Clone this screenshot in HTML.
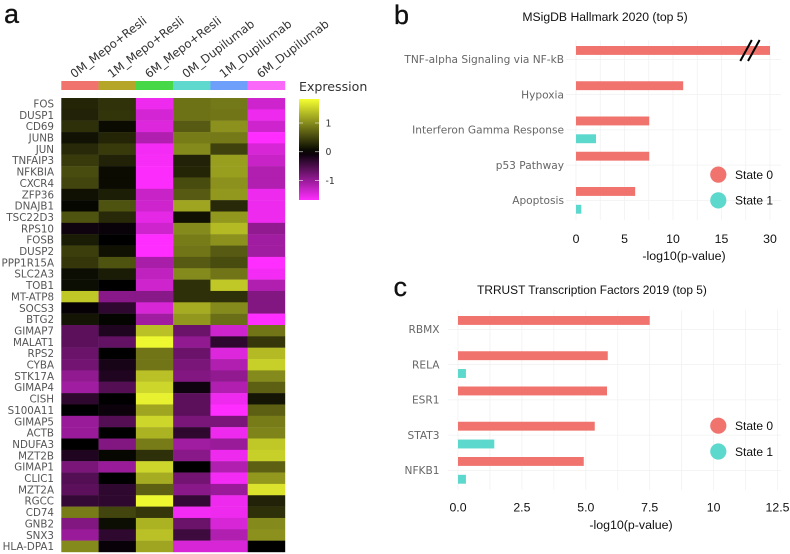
<!DOCTYPE html>
<html lang="en">
<head>
<meta charset="utf-8">
<title>Expression heatmap and enrichment charts</title>
<style>
html,body{margin:0;padding:0;background:#fff;width:790px;height:554px;overflow:hidden}
svg{display:block}
text{font-family:"Liberation Sans",sans-serif}
.dj{font-family:"DejaVu Sans",sans-serif}
</style>
</head>
<body>
<svg id="figure" xmlns="http://www.w3.org/2000/svg" width="790" height="554" viewBox="0 0 790 554">
  <rect width="790" height="554" fill="#fff"/>
  <defs>
    <linearGradient id="cbar" x1="0" y1="0" x2="0" y2="1"></linearGradient>
  </defs>
  <text x="4" y="23" font-size="27" fill="#111" stroke="#111" stroke-width="0.3">a</text>
  <text x="394" y="24" font-size="27" fill="#111" stroke="#111" stroke-width="0.3">b</text>
  <text x="393.5" y="296" font-size="27" fill="#111" stroke="#111" stroke-width="0.3">c</text>
  <g id="heatmap"></g>
  <g id="colorbar">
    <text class="dj" x="299" y="91" font-size="12.6" fill="#333">Expression</text>
    <rect x="299" y="99" width="20" height="101" fill="url(#cbar)"/>
  </g>
  <g id="chart-b">
    <text x="605" y="21" font-size="12.2" text-anchor="middle" fill="#111">MSigDB Hallmark 2020 (top 5)</text>
    <text x="684" y="260" font-size="12.4" text-anchor="middle" fill="#111">-log10(p-value)</text>
  </g>
  <g id="chart-c">
    <text x="592" y="294" font-size="11.9" text-anchor="middle" fill="#111">TRRUST Transcription Factors 2019 (top 5)</text>
    <text x="631" y="529" font-size="12.4" text-anchor="middle" fill="#111">-log10(p-value)</text>
  </g>
</svg>
<script>
var conditions = ["0M_Mepo+Resli","1M_Mepo+Resli","6M_Mepo+Resli","0M_Dupilumab","1M_Dupilumab","6M_Dupilumab"];
var conditionColors = ["#f1736e","#b5a62a","#46d846","#5fd8cd","#6ea0fb","#f968f9"];
var genes = ["FOS","DUSP1","CD69","JUNB","JUN","TNFAIP3","NFKBIA","CXCR4","ZFP36","DNAJB1","TSC22D3","RPS10","FOSB","DUSP2","PPP1R15A","SLC2A3","TOB1","MT-ATP8","SOCS3","BTG2","GIMAP7","MALAT1","RPS2","CYBA","STK17A","GIMAP4","CISH","S100A11","GIMAP5","ACTB","NDUFA3","MZT2B","GIMAP1","CLIC1","MZT2A","RGCC","CD74","GNB2","SNX3","HLA-DPA1"];
var expression = [
[0.27,0.36,-1.55,0.83,0.87,-1.35],
[0.25,0.38,-1.38,0.83,0.85,-1.55],
[0.35,0.08,-1.45,0.65,1.05,-1.35],
[0.13,0.27,-1.15,0.9,0.88,-1.67],
[0.3,0.42,-1.6,1.0,0.48,-1.4],
[0.42,0.25,-1.62,0.25,1.15,-1.3],
[0.55,0.08,-1.65,0.27,1.15,-1.15],
[0.5,0.08,-1.65,0.55,1.05,-1.15],
[0.12,0.22,-1.3,0.65,1.1,-1.55],
[0.05,0.6,-1.35,1.2,0.3,-1.55],
[0.6,0.3,-1.5,0.12,1.1,-1.55],
[-0.1,-0.06,-1.35,1.0,1.35,-0.95],
[0.2,0,-1.67,0.9,1.05,-1.05],
[0.45,0.12,-1.67,0.85,0.65,-1.05],
[0.4,0.6,-1.1,0.65,0.55,-1.67],
[0.1,0.2,-1.25,1.0,0.85,-1.6],
[0.1,0,-1.35,0.35,1.45,-1.15],
[1.45,-0.9,-0.9,0.35,0.35,-0.85],
[-0.03,-0.3,-1.4,1.25,1.0,-0.85],
[0.15,0.03,-1.05,1.1,0.8,-1.67],
[-0.6,-0.2,1.4,-0.7,-1.35,0.85],
[-0.6,-0.65,1.8,-0.95,-0.3,0.4],
[-0.7,0,0.85,-0.7,-1.45,1.35],
[-0.75,-0.15,0.85,-0.8,-1.15,1.5],
[-0.95,-0.2,1.4,-0.85,-0.95,1.0],
[-1.05,-0.55,1.55,-0.1,-1.15,0.7],
[-0.3,0,1.75,-0.6,-1.55,0.15],
[0,-0.08,1.2,-0.6,-1.67,0.7],
[-1.0,-0.55,1.55,-0.8,-0.8,0.9],
[-1.0,0,1.3,-0.3,-1.55,0.95],
[0,-0.85,0.9,-1.05,-1.0,1.45],
[-0.2,0.05,0.35,-0.9,-1.55,1.5],
[-0.8,-1.0,1.55,0,-1.15,0.7],
[-0.55,0,1.25,-0.75,-1.6,1.1],
[-0.6,-0.3,0.7,-0.9,-1.0,1.65],
[-0.35,-0.3,1.8,-0.35,-1.55,0.25],
[0.9,0.5,0.4,-1.6,-1.55,0.35],
[-0.85,0.1,1.3,-0.7,-1.4,1.0],
[-1.0,-0.3,1.4,-0.4,-1.15,1.05],
[1.0,-0.05,1.2,-1.4,-1.4,0]
];
var colorbarTicks = [1,0,-1];
var hallmarkTerms = ["TNF-alpha Signaling via NF-kB","Hypoxia","Interferon Gamma Response","p53 Pathway","Apoptosis"];
var hallmarkState0 = [30,11.05,7.55,7.55,6.1];
var hallmarkState1 = [0,0,2.06,0,0.55];
var hallmarkTicks = [0,5,10,15,30];
var trrustTerms = ["RBMX","RELA","ESR1","STAT3","NFKB1"];
var trrustState0 = [7.5,5.86,5.83,5.35,4.92];
var trrustState1 = [0,0.31,0,1.42,0.31];
var trrustTicks = [0,2.5,5,7.5,10,12.5];
var legendLabels = ["State 0","State 1"];

var NS = "http://www.w3.org/2000/svg";
var STATE_COLORS = ["#f1736e","#5cd8cc"];

function mk(parent, tag, attrs, text) {
  var el = document.createElementNS(NS, tag);
  for (var k in attrs) el.setAttribute(k, attrs[k]);
  if (text !== undefined) el.textContent = text;
  parent.appendChild(el);
  return el;
}
function slug(s) { return String(s).toLowerCase().replace(/[^a-z0-9]+/g, "-").replace(/^-|-$/g, ""); }

/* heatmap */
var HX0 = 61.3, HX1 = 285, HY0 = 98, HY1 = 552;
var VMAX = 1.85, VMIN = -1.67;
function heatColor(v) {
  var t, r, g, b;
  if (v >= 0) { t = Math.min(1, v / VMAX); r = 245 * t; g = 255 * t; b = 50 * t; }
  else { t = Math.min(1, v / VMIN); r = 255 * t; g = 45 * t; b = 255 * t; }
  return "rgb(" + Math.round(r) + "," + Math.round(g) + "," + Math.round(b) + ")";
}
function hx(i) { return HX0 + i * (HX1 - HX0) / conditions.length; }
function hy(i) { return HY0 + i * (HY1 - HY0) / genes.length; }

var hm = document.getElementById("heatmap");
conditions.forEach(function (c, i) {
  var ann = mk(hm, "rect", {x: hx(i), y: 81, width: hx(i + 1) - hx(i) + 0.2, height: 9, fill: conditionColors[i]});
  
  
  var cx = hx(i) + 13;
  var lab = mk(hm, "text", {"class": "dj", x: cx, y: 78.5, "font-size": 11.7, fill: "#333", transform: "rotate(-37.5 " + cx + " 78.5)"}, c);
  
  
});
genes.forEach(function (g, r) {
  var lab = mk(hm, "text", {"class": "dj", x: 54, y: hy(r) + (hy(1) - hy(0)) / 2 + 3.8, "font-size": 10.3, "text-anchor": "end", fill: "#555"}, g);
  
  
  expression[r].forEach(function (v, c) {
    var cell = mk(hm, "rect", {x: hx(c), y: hy(r), width: hx(c + 1) - hx(c) + 0.2, height: hy(r + 1) - hy(r) + 0.2, fill: heatColor(v)});
    
    
  });
});

/* colorbar */
var grad = document.getElementById("cbar");
for (var s = 0; s <= 20; s++) {
  var val = VMAX + (VMIN - VMAX) * s / 20;
  mk(grad, "stop", {offset: s / 20, "stop-color": heatColor(val)});
}
function cby(v) { return 151.7 - v * 28.7; }
var cb = document.getElementById("colorbar");
colorbarTicks.forEach(function (v) {
  var y = cby(v);
  var t1 = mk(cb, "line", {x1: 299, x2: 303, y1: y, y2: y, stroke: "#fff", "stroke-width": 0.8, "stroke-opacity": 0.7});
  
  
  var t2 = mk(cb, "line", {x1: 315, x2: 319, y1: y, y2: y, stroke: "#fff", "stroke-width": 0.8, "stroke-opacity": 0.7});
  
  
  var lab = mk(cb, "text", {"class": "dj", x: 325.5, y: y + 3.4, "font-size": 9.3, fill: "#333"}, v);
  
  
});

/* bar charts */
function drawBars(cfg) {
  var g = document.getElementById(cfg.id);
  var base = cfg.firstY, step = 35.25;
  var i, gx;
  /* gridlines */
  for (i = 0; i < cfg.gridValues.length; i++) {
    gx = cfg.x(cfg.gridValues[i]);
    var vg = mk(g, "line", {x1: gx, x2: gx, y1: base - 19, y2: base + 4 * step + 19.5, stroke: "#f1f1f1", "stroke-width": 0.8});
    
    
  }
  cfg.terms.forEach(function (t, k) {
    var y = base + k * step;
    var hg = mk(g, "line", {x1: cfg.gridLeft, x2: cfg.gridRight, y1: y, y2: y, stroke: "#f1f1f1", "stroke-width": 0.8});
    
    
    var lab = mk(g, "text", {"class": "dj", x: cfg.labelX, y: y + 3.8, "font-size": 10.6, "text-anchor": "end", fill: "#666"}, t);
    
    
    if (cfg.s0[k] > 0) {
      var b0 = mk(g, "rect", {x: cfg.x(0), y: y - 13.4, width: cfg.x(cfg.s0[k]) - cfg.x(0), height: 8.9, fill: STATE_COLORS[0]});
      
      
    }
    if (cfg.s1[k] > 0) {
      var b1 = mk(g, "rect", {x: cfg.x(0), y: y + 4.4, width: cfg.x(cfg.s1[k]) - cfg.x(0), height: 8.9, fill: STATE_COLORS[1]});
      
      
    }
  });
  cfg.ticks.forEach(function (v) {
    var lab = mk(g, "text", {x: cfg.x(v), y: cfg.tickY, "font-size": 12.3, "text-anchor": "middle", fill: "#111"}, cfg.decimals && v !== 10 ? v.toFixed(1) : v);
    
    
  });
  legendLabels.forEach(function (l, k) {
    var y = cfg.legendY + k * 25.8;
    var dot = mk(g, "circle", {cx: 718.3, cy: y, r: 8.1, fill: STATE_COLORS[k]});
    
    
    var lt = mk(g, "text", {x: 735, y: y + 4.3, "font-size": 12, fill: "#111"}, l);
    
    
  });
}

/* panel b uses a broken axis: linear to 15, then the break compresses 15 to 30 */
function xB(v) {
  var unit = (770 - 576) / 20;
  if (v <= 15) return 576 + v * unit;
  return 576 + (15 + (v - 15) / 3) * unit;
}
function xC(v) { return 458 + v * 25.56; }

drawBars({
  id: "chart-b", terms: hallmarkTerms, s0: hallmarkState0, s1: hallmarkState1, ticks: hallmarkTicks,
  x: xB, firstY: 59.4, labelX: 564, tickY: 243.2, legendY: 174.6,
  gridLeft: 566, gridRight: 781, decimals: false,
  gridValues: [0, 2.5, 5, 7.5, 10, 12.5, 15, 22.5, 30]
});
drawBars({
  id: "chart-c", terms: trrustTerms, s0: trrustState0, s1: trrustState1, ticks: trrustTicks,
  x: xC, firstY: 329.4, labelX: 439.5, tickY: 511.5, legendY: 425.7,
  gridLeft: 448, gridRight: 781, decimals: true,
  gridValues: [0, 1.25, 2.5, 3.75, 5, 6.25, 7.5, 8.75, 10, 11.25, 12.5]
});

/* axis-break marks on panel b */
var cb2 = document.getElementById("chart-b");
var brk1 = mk(cb2, "line", {x1: 740.3, y1: 61, x2: 751.8, y2: 40, stroke: "#000", "stroke-width": 2});


var brk2 = mk(cb2, "line", {x1: 748, y1: 61, x2: 759.6, y2: 40, stroke: "#000", "stroke-width": 2});


</script>
</body>
</html>
